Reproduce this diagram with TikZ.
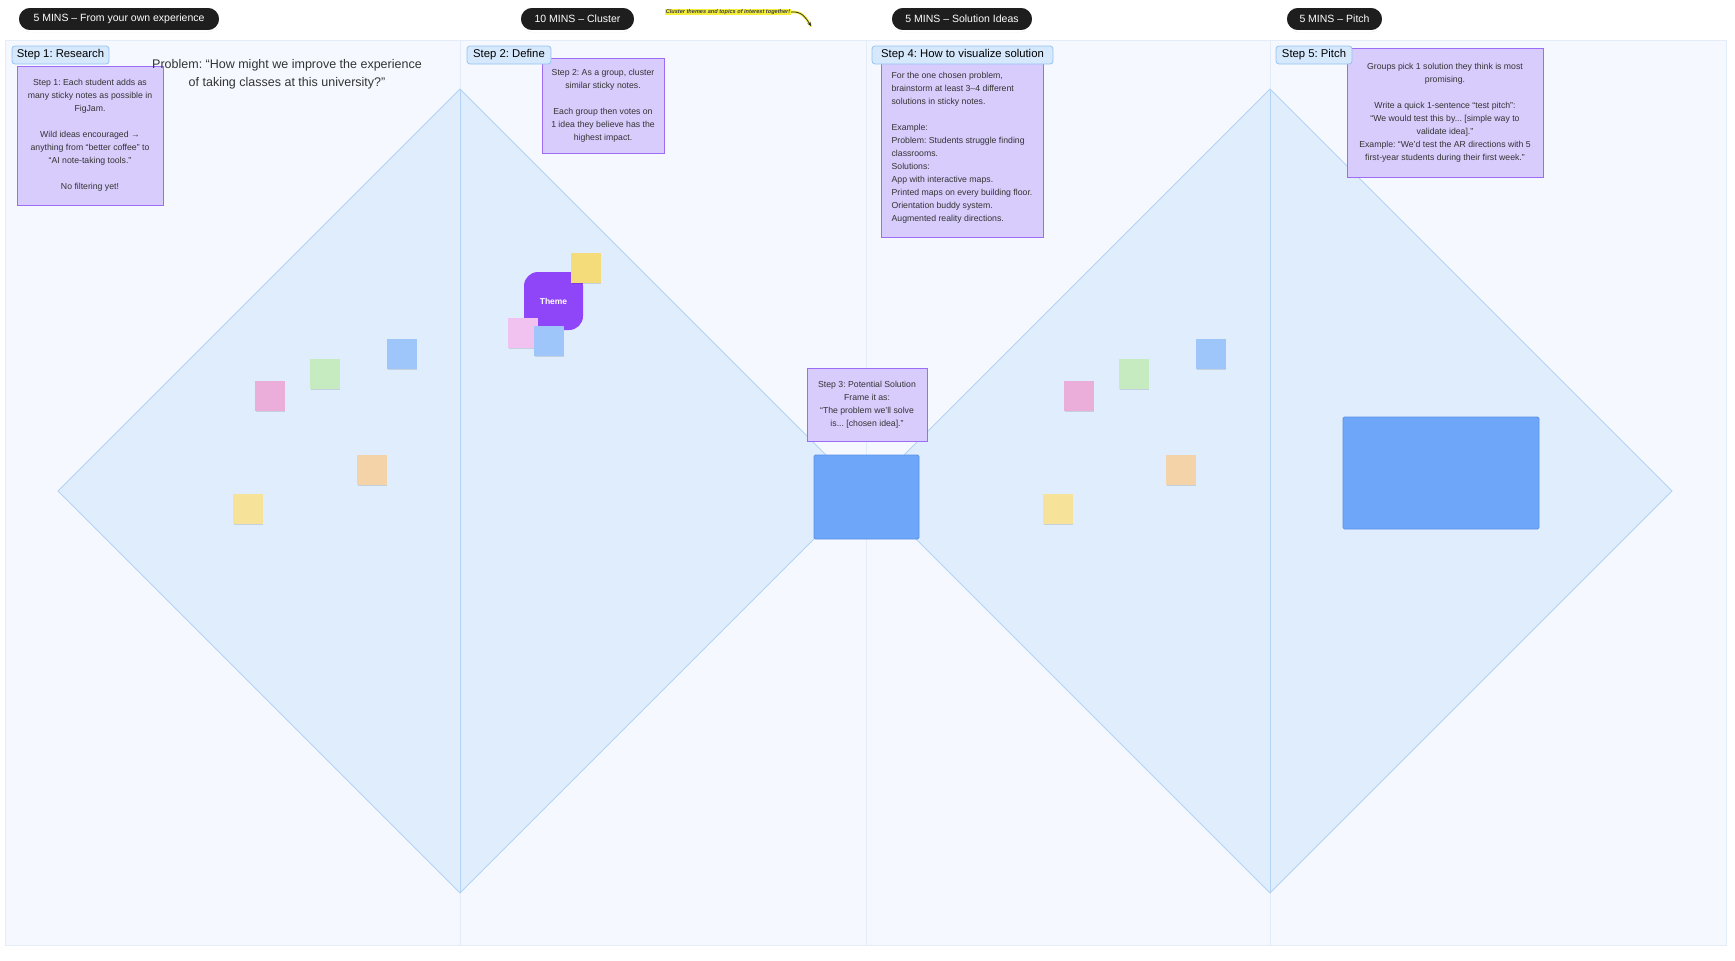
\documentclass[tikz,border=0pt]{standalone}
\usepackage{fontspec}
\setmainfont{Liberation Sans}
\usetikzlibrary{shadows,arrows.meta}
\frenchspacing
\definecolor{panelbg}{HTML}{F5F9FF}
\definecolor{panelline}{HTML}{E4ECF7}
\definecolor{diafill}{HTML}{E0EDFD}
\definecolor{diastroke}{HTML}{B3D3F5}
\definecolor{lav}{HTML}{D8CCFC}
\definecolor{lavline}{HTML}{9C6CF5}
\definecolor{labfill}{HTML}{D6E8FC}
\definecolor{labline}{HTML}{94C3F3}
\definecolor{pillc}{HTML}{1E1E1E}
\definecolor{rectfill}{HTML}{6EA7FA}
\definecolor{rectline}{HTML}{5A8FE6}
\definecolor{themec}{HTML}{8F45F8}
\definecolor{sblue}{HTML}{9EC6FB}
\definecolor{sgreen}{HTML}{C6EBC0}
\definecolor{spink}{HTML}{EBADD9}
\definecolor{sorange}{HTML}{F5D3A8}
\definecolor{syellow}{HTML}{F7E29A}
\definecolor{slilac}{HTML}{F1C2F0}
\definecolor{syellow2}{HTML}{F5DC7A}
\definecolor{txt}{HTML}{333333}
\definecolor{hl}{HTML}{F3EE3A}
\tikzset{
  sticky/.style={minimum width=29.5pt, minimum height=29.5pt, inner sep=0pt, anchor=north west,
    drop shadow={shadow xshift=0.6pt, shadow yshift=-0.9pt, fill=black, opacity=0.12}},
  pillbox/.style={fill=pillc, draw=white, line width=1.6pt, rounded corners=12pt, minimum height=24pt,
    inner sep=0pt, text=white, font=\fontsize{10.5}{12}\selectfont,
    drop shadow={shadow xshift=0pt, shadow yshift=-1pt, fill=black, opacity=0.12}},
  steplab/.style={fill=labfill, draw=labline, line width=0.8pt, rounded corners=3pt, minimum height=18pt,
    inner sep=0pt, text=black, font=\fontsize{11.3}{13}\selectfont},
  lavbox/.style={fill=lav, draw=lavline, line width=0.9pt, inner sep=0pt, text=txt,
    font=\fontsize{8.7}{13}\selectfont},
  bluerect/.style={fill=rectfill, draw=rectline, line width=0.9pt, rounded corners=1.5pt, inner sep=0pt},
}
\begin{document}
\begin{tikzpicture}[x=1pt,y=-1pt]
\useasboundingbox (0,0) rectangle (1735,961);
\fill[white] (0,0) rectangle (1735,961);
% panel
\draw[fill=panelbg, draw=panelline] (5,40) rectangle (1726,945);
\draw[panelline] (460,40) -- (460,945);
\draw[panelline] (866,40) -- (866,945);
\draw[panelline] (1270,40) -- (1270,945);
% diamonds
\draw[fill=diafill, draw=diastroke, line width=0.8pt] (460,89) -- (862,491) -- (460,893) -- (58,491) -- cycle;
\draw[diastroke, line width=0.8pt] (460,89) -- (460,893);
\draw[fill=diafill, draw=diastroke, line width=0.8pt] (1270,89) -- (1672,491) -- (1270,893) -- (868,491) -- cycle;
\draw[diastroke, line width=0.8pt] (1270,89) -- (1270,893);
% stickies column 1
\node[sticky, fill=sblue] (s1a) at (387,339) {};
\node[sticky, fill=sgreen] (s1b) at (310,359) {};
\node[sticky, fill=spink] (s1c) at (255,381) {};
\node[sticky, fill=sorange] (s1d) at (357,455) {};
\node[sticky, fill=syellow] (s1e) at (233,494) {};
% stickies column 3
\node[sticky, fill=sblue] (s3a) at (1196,339) {};
\node[sticky, fill=sgreen] (s3b) at (1119,359) {};
\node[sticky, fill=spink] (s3c) at (1064,381) {};
\node[sticky, fill=sorange] (s3d) at (1166,455) {};
\node[sticky, fill=syellow] (s3e) at (1043,494) {};
% theme cluster
\node[fill=themec, rounded corners=14pt, minimum width=59pt, minimum height=58pt, inner sep=0pt,
  text=white, font=\bfseries\fontsize{8.5}{10}\selectfont] (theme) at (553.5,301) {Theme};
\node[sticky, fill=syellow2] (c1) at (571,253) {};
\node[sticky, fill=slilac] (c2) at (508,318) {};
\node[sticky, fill=sblue] (c3) at (534,326) {};
% blue rects
\node[bluerect, minimum width=105pt, minimum height=84pt] (r1) at (866.5,497) {};
\node[bluerect, minimum width=196pt, minimum height=112pt] (r2) at (1441,473) {};
% purple boxes
\node[lavbox, minimum width=146pt, minimum height=139pt, align=center] (b1) at (90,135.5)
  {Step 1: Each student adds as\\many sticky notes as possible in\\FigJam.\\[13pt]Wild ideas encouraged →\\anything from “better coffee” to\\“AI note-taking tools.”\\[13pt]No filtering yet!};
\node[lavbox, minimum width=122pt, minimum height=95pt, align=center] (b2) at (603,105.5)
  {Step 2: As a group, cluster\\similar sticky notes.\\[13pt]Each group then votes on\\1 idea they believe has the\\highest impact.};
\node[lavbox, minimum width=120pt, minimum height=73pt, align=center] (b3) at (867,404.5)
  {Step 3: Potential Solution\\Frame it as:\\“The problem we’ll solve\\is... [chosen idea].”};
\node[lavbox, minimum width=162pt, minimum height=179pt, align=left] (b4) at (962,147.5)
  {For the one chosen problem,\\brainstorm at least 3–4 different\\solutions in sticky notes.\\[13pt]Example:\\Problem: Students struggle finding\\classrooms.\\Solutions:\\App with interactive maps.\\Printed maps on every building floor.\\Orientation buddy system.\\Augmented reality directions.};
\node[lavbox, minimum width=196pt, minimum height=129pt, align=center] (b5) at (1445,112.5)
  {Groups pick 1 solution they think is most\\promising.\\[13pt]Write a quick 1-sentence “test pitch”:\\“We would test this by... [simple way to\\validate idea].”\\Example: “We'd test the AR directions with 5\\first-year students during their first week.”};
% step labels
\node[steplab, minimum width=97pt] (l1) at (60.5,55) {Step 1: Research};
\node[steplab, minimum width=84pt] (l2) at (509,55) {Step 2: Define};
\node[steplab, minimum width=181pt] (l4) at (962.5,55) {Step 4: How to visualize solution};
\node[steplab, minimum width=76pt] (l5) at (1314,55) {Step 5: Pitch};
% problem statement
\node[text=txt, align=center, inner sep=0pt, font=\fontsize{12.5}{18}\selectfont] (prob) at (287,74)
  {Problem: “How might we improve the experience\\of taking classes at this university?”};
% pills
\node[pillbox, minimum width=202pt] (p1) at (119,19) {5 MINS – From your own experience};
\node[pillbox, minimum width=115pt] (p2) at (577.5,19) {10 MINS – Cluster};
\node[pillbox, minimum width=142pt] (p3) at (962,19) {5 MINS – Solution Ideas};
\node[pillbox, minimum width=97pt] (p4) at (1334.5,19) {5 MINS – Pitch};
% annotation
\node[fill=hl, inner sep=0.6pt, text=black!75, font=\itshape\bfseries\fontsize{5.6}{6}\selectfont] (ann) at (728,12)
  {Cluster themes and topics of interest together!};
\coordinate (annend) at (811,26);
\draw[hl, line width=2.6pt, line cap=round] (ann.east) .. controls (802,11) and (806,18) .. (annend);
\draw[black!85, line width=0.7pt, -{Stealth[length=4pt,width=3.4pt]}] (ann.east) .. controls (802,11) and (806,18) .. (annend);
\end{tikzpicture}
\end{document}
